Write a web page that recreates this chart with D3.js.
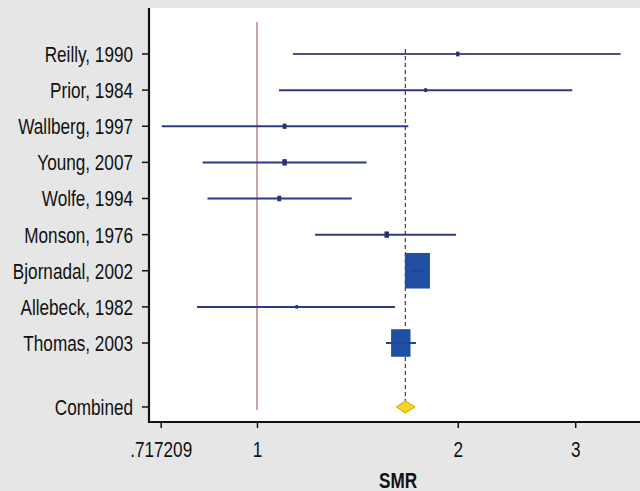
<!DOCTYPE html>
<html lang="en">
<head>
<meta charset="UTF-8">
<title>SMR forest plot</title>
<script src="https://cdnjs.cloudflare.com/ajax/libs/d3/7.8.5/d3.min.js"></script>
<style>
  body { margin: 0; background: #e6e6e6; }
  svg { display: block; }
  text { font-family: "Liberation Sans", Arial, sans-serif; fill: #111; }
</style>
</head>
<body>
<svg id="chart"></svg>
<script>
// studies, top to bottom
const studies = ["Reilly, 1990", "Prior, 1984", "Wallberg, 1997", "Young, 2007", "Wolfe, 1994",
                 "Monson, 1976", "Bjornadal, 2002", "Allebeck, 1982", "Thomas, 2003"];
const smr    = [2.00, 1.79, 1.10, 1.10, 1.08, 1.565, 1.74, 1.147, 1.643];
const lower  = [1.132, 1.079, 0.720, 0.829, 0.843, 1.222, 1.70, 0.813, 1.561];
const upper  = [3.51, 2.97, 1.686, 1.46, 1.387, 1.988, 1.78, 1.610, 1.730];
const weight = [0.9, 0.6, 1.1, 1.6, 1.2, 1.6, 50, 0.5, 30];   // % weight -> box size

const combined = { label: "Combined", smr: 1.669, lower: 1.618, upper: 1.726 };
const xTicks = [0.717209, 1, 2, 3];
const xTitle = "SMR";

const width = 640, height = 491;
const plotLeft = 149, plotTop = 8, plotBottom = 422;
const narrow = 0.78;   // condensed look of the original font
const fs = 22;

const svg = d3.select("#chart").attr("width", width).attr("height", height);

// plot area
svg.append("rect")
  .attr("x", plotLeft).attr("y", plotTop)
  .attr("width", width - plotLeft).attr("height", plotBottom - plotTop)
  .attr("fill", "#fff");

const x = d3.scaleLog().domain([0.717209, 3]).range([160.7, 575.2]);
const y = d3.scaleLinear().domain([1, 9]).range([54, 343]);

const rows = studies.map((s, i) => ({
  label: s, pos: i + 1, smr: smr[i], lo: lower[i], hi: upper[i], w: weight[i]
}));
const combPos = 10.77;

// reference line at 1
svg.append("line")
  .attr("x1", x(1)).attr("x2", x(1))
  .attr("y1", 22).attr("y2", 410)
  .attr("stroke", "#9c4a4a").attr("stroke-width", 1);

// dashed line at combined estimate
svg.append("line")
  .attr("x1", x(combined.smr)).attr("x2", x(combined.smr))
  .attr("y1", 49).attr("y2", y(combPos) - 6)
  .attr("stroke", "#6b2f2f").attr("stroke-width", 1.2)
  .attr("stroke-dasharray", "4,3");

// confidence intervals
svg.append("g").selectAll("line")
  .data(rows)
  .join("line")
    .attr("x1", d => x(d.lo)).attr("x2", d => x(d.hi))
    .attr("y1", d => y(d.pos)).attr("y2", d => y(d.pos))
    .attr("stroke", d => d.pos === 1 ? "#4a5088" : "#2e3886").attr("stroke-width", 2);

// weighted boxes
const k = 3.54;
svg.append("g").selectAll("rect")
  .data(rows)
  .join("rect")
    .attr("x", d => x(d.smr) - k * Math.sqrt(d.w) / 2)
    .attr("y", d => y(d.pos) - k * Math.sqrt(d.w) * 1.42 / 2)
    .attr("width", d => k * Math.sqrt(d.w))
    .attr("height", d => k * Math.sqrt(d.w) * 1.42)
    .attr("fill", d => d.w > 5 ? "#1f4ea3" : "#28306e");

// CI lines over the large boxes
svg.append("g").selectAll("line")
  .data(rows.filter(d => d.w > 5))
  .join("line")
    .attr("x1", d => x(d.lo)).attr("x2", d => x(d.hi))
    .attr("y1", d => y(d.pos)).attr("y2", d => y(d.pos))
    .attr("stroke", "#1c4696").attr("stroke-width", 2);

// combined diamond
const cy = y(combPos);
svg.append("path")
  .attr("d", `M${x(combined.lower)},${cy} L${x(combined.smr)},${cy - 6} L${x(combined.upper)},${cy} L${x(combined.smr)},${cy + 6} Z`)
  .attr("fill", "#f7d51d").attr("stroke", "#c9a400").attr("stroke-width", 1);

// y axis
const yLabels = rows.map(d => ({ label: d.label, pos: d.pos }))
  .concat([{ label: combined.label, pos: combPos }]);
const yAxis = svg.append("g");
yAxis.append("line")
  .attr("x1", plotLeft).attr("x2", plotLeft).attr("y1", plotTop).attr("y2", plotBottom + 1)
  .attr("stroke", "#111").attr("stroke-width", 2.2);
yAxis.selectAll("line.tick")
  .data(yLabels)
  .join("line").attr("class", "tick")
    .attr("x1", plotLeft - 7).attr("x2", plotLeft)
    .attr("y1", d => y(d.pos)).attr("y2", d => y(d.pos))
    .attr("stroke", "#111").attr("stroke-width", 1.5);
yAxis.selectAll("text")
  .data(yLabels)
  .join("text")
    .attr("transform", d => `translate(${plotLeft - 16},${y(d.pos)}) scale(${narrow},1)`)
    .attr("dy", "0.36em")
    .attr("text-anchor", "end")
    .attr("font-size", fs)
    .text(d => d.label);

// x axis
const xAxis = svg.append("g").attr("transform", `translate(0,${plotBottom})`)
  .call(d3.axisBottom(x).tickValues(xTicks).tickSize(6).tickFormat(d => d === 0.717209 ? ".717209" : d3.format("d")(d)));
xAxis.select(".domain").remove();
xAxis.selectAll(".tick line").attr("stroke", "#111").attr("stroke-width", 1.5);
xAxis.selectAll(".tick text")
  .attr("font-size", fs).attr("y", 0).attr("dy", "0.71em")
  .attr("transform", `translate(0,19) scale(${narrow},1)`)
  .attr("font-family", null).attr("fill", "#111");
svg.append("line")
  .attr("x1", plotLeft - 1).attr("x2", width).attr("y1", plotBottom).attr("y2", plotBottom)
  .attr("stroke", "#111").attr("stroke-width", 2.2);

svg.append("text")
  .attr("transform", `translate(398,488) scale(${narrow},1)`)
  .attr("text-anchor", "middle")
  .attr("font-size", fs).attr("font-weight", "bold")
  .text(xTitle);
</script>
</body>
</html>
